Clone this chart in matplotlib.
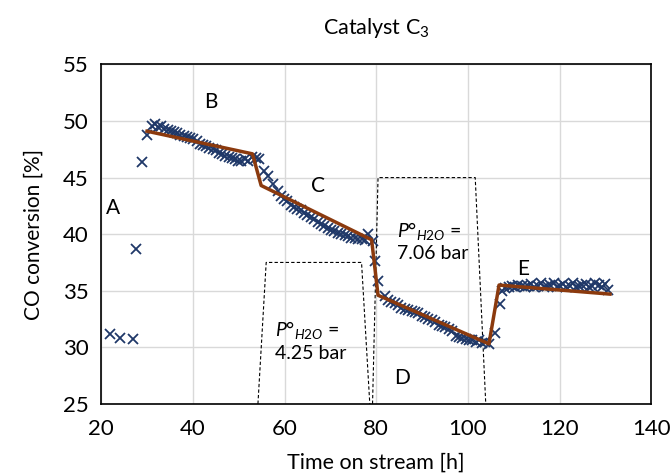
import matplotlib
matplotlib.use("Agg")
import matplotlib.pyplot as plt

plt.rcParams['font.family'] = ['Lato', 'DejaVu Sans']
plt.rcParams['mathtext.fontset'] = 'custom'
plt.rcParams['mathtext.rm'] = 'Lato'
plt.rcParams['mathtext.it'] = 'Lato:italic'

# measured CO conversion (markers)
time_h = [22, 24, 27, 27.5, 29, 30,
          31, 31.7, 32.4, 33.1, 33.8, 34.5, 35.2, 35.9, 36.6, 37.3, 38, 38.7,
          39.4, 40.1, 40.8, 41.5, 42.2, 42.9, 43.6, 44.3, 45, 45.7, 46.4, 47.1,
          47.8, 48.5, 49.2, 49.9, 50.6, 51.3, 52, 53, 53.7,
          54.5, 55.5, 56.3, 57.4, 58.5, 59.2, 59.9, 60.6, 61.4, 62.1, 62.8,
          63.6, 64.3, 65, 65.8, 66.5, 67.2, 68, 68.7, 69.4, 70.2, 70.9, 71.6,
          72.4, 73.1, 73.8, 74.6, 75.3, 76, 76.8, 77.5, 78.3, 79.2, 79.7, 80.4,
          81.9, 82.6, 83.3, 84.1, 84.8, 85.5, 86.3, 87, 87.7, 88.5, 89.2, 89.9,
          90.6, 91.4, 92.1, 92.8, 93.6, 94.3, 95.1, 95.8, 96.5, 97.3, 98,
          98.7, 99.5, 100.2, 101, 101.7, 102.4, 103.1, 103.8, 104.6,
          106, 107.1, 107.5,
          108.2, 108.9, 109.6, 110.3, 111, 111.7, 112.4, 113.1, 113.8, 114.5,
          115.2, 115.9, 116.6, 117.3, 118, 118.7, 119.4, 120.1, 120.8, 121.5,
          122.2, 122.9, 123.6, 124.3, 125, 125.7, 126.4, 127.1, 127.8, 128.5,
          129.2, 129.9, 130.6]
conversion = [31.2, 30.8, 30.7, 38.7, 46.4, 48.8,
              49.6, 49.7, 49.5, 49.6, 49.3, 49.2, 49.1, 49.0, 48.9, 48.8, 48.7, 48.6,
              48.5, 48.4, 48.2, 48.0, 47.9, 47.8, 47.6, 47.5, 47.4, 47.2, 47.1, 46.9,
              46.8, 46.7, 46.6, 46.5, 46.5, 46.6, 46.5, 46.8, 46.7,
              46.6, 45.6, 45.1, 44.4, 43.8, 43.4, 43.1, 42.9, 42.6, 42.4, 42.2,
              42.1, 41.9, 41.7, 41.5, 41.3, 41.1, 40.9, 40.7, 40.5, 40.4, 40.3, 40.1,
              40.0, 39.9, 39.8, 39.7, 39.7, 39.6, 39.6, 39.5, 40.0, 39.4, 37.6, 35.9,
              34.5, 34.2, 34.0, 33.9, 33.7, 33.5, 33.4, 33.3, 33.2, 33.1, 33.0, 32.8,
              32.7, 32.5, 32.4, 32.2, 32.0, 31.9, 31.8, 31.6, 31.4, 31.0, 30.9,
              30.8, 30.7, 30.6, 30.6, 30.5, 30.6, 30.4, 30.5, 30.3,
              31.3, 33.8, 35.0,
              35.2, 35.3, 35.4, 35.3, 35.5, 35.4, 35.3, 35.4, 35.6, 35.3,
              35.4, 35.7, 35.3, 35.4, 35.5, 35.7, 35.3, 35.4, 35.6, 35.3,
              35.4, 35.7, 35.3, 35.4, 35.5, 35.6, 35.3, 35.4, 35.7, 35.5,
              35.3, 35.6, 35.1]

# fitted trend (brown line)
trend_t = [30, 53.0, 54.9, 79.0, 80.4, 104.6, 106.8, 131.0]
trend_y = [49.1, 47.1, 44.3, 39.5, 34.6, 30.3, 35.5, 34.7]

# water partial pressure periods (dashed outlines)
pulse1_t = [54.2, 56.0, 76.8, 78.6]
pulse1_y = [25, 37.5, 37.5, 25]
pulse2_t = [79.2, 80.4, 101.6, 103.9]
pulse2_y = [25, 45.0, 45.0, 25]

fig, ax = plt.subplots(figsize=(6.7, 4.74), dpi=100)
fig.subplots_adjust(left=0.151, right=0.972, top=0.864, bottom=0.148)

ax.plot(pulse1_t, pulse1_y, color='black', lw=0.8, ls=(0, (3, 2)), zorder=2)
ax.plot(pulse2_t, pulse2_y, color='black', lw=0.8, ls=(0, (3, 2)), zorder=2)
ax.plot(time_h, conversion, ls='none', marker='x', ms=7, mew=1.3,
        color='#1F3868', zorder=3)
ax.plot(trend_t, trend_y, color='#8B3A0E', lw=2.5, zorder=4)

ax.set_xlim(20, 140)
ax.set_ylim(25, 55)
ax.set_xticks(range(20, 141, 20))
ax.set_yticks(range(25, 56, 5))
ax.grid(True, color='#D9D9D9', lw=1)
ax.set_axisbelow(True)
ax.tick_params(length=0, labelsize=16)
ax.tick_params(axis='x', pad=11)
ax.tick_params(axis='y', pad=9)
for s in ax.spines.values():
    s.set_linewidth(1.2)
    s.set_color('black')

ax.set_xlabel('Time on stream [h]', fontsize=15.5, labelpad=10)
ax.set_ylabel('CO conversion [%]', fontsize=15, labelpad=14)
ax.set_title('Catalyst C$_3$', fontsize=15.5, pad=22)

ax.text(22.6, 42.3, 'A', fontsize=15, ha='center', va='center')
ax.text(43.9, 51.7, 'B', fontsize=15, ha='center', va='center')
ax.text(67.4, 44.3, 'C', fontsize=15, ha='center', va='center')
ax.text(85.6, 27.3, 'D', fontsize=15, ha='center', va='center')
ax.text(112.1, 36.9, 'E', fontsize=15, ha='center', va='center')
ax.text(58.0, 30.6, '$P$°$_{H2O}$ =\n4.25 bar', fontsize=14, ha='left',
        va='center', linespacing=1.3)
ax.text(84.6, 39.4, '$P$°$_{H2O}$ =\n7.06 bar', fontsize=14, ha='left',
        va='center', linespacing=1.25)

fig.savefig('out.png', dpi=100)
